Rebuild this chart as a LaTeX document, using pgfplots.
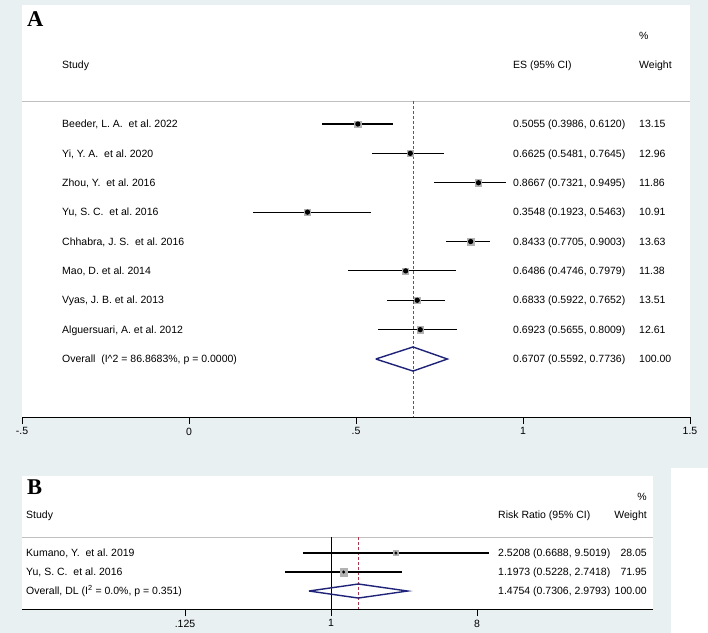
\documentclass[border=0pt]{standalone}
\usepackage{pgfplots}
\pgfplotsset{compat=1.18}
\usepackage{pgfplotstable}
\usepackage{fontspec}
\setmainfont{Liberation Sans}
\newfontfamily\lserif{Liberation Serif}
\definecolor{bgc}{RGB}{233,240,242}
\definecolor{boxgray}{RGB}{178,178,178}
\definecolor{sepgray}{RGB}{192,192,192}
\definecolor{dashred}{RGB}{170,55,75}
\definecolor{dnavy}{RGB}{30,35,120}
\frenchspacing
\pgfplotstableread{
row es lo hi w
1 0.5055 0.3986 0.6120 13.15
2 0.6625 0.5481 0.7645 12.96
3 0.8667 0.7321 0.9495 11.86
4 0.3548 0.1923 0.5463 10.91
5 0.8433 0.7705 0.9003 13.63
6 0.6486 0.4746 0.7979 11.38
7 0.6833 0.5922 0.7652 13.51
8 0.6923 0.5655 0.8009 12.61
}\dataA
\pgfplotstableread{
row es lo hi w
1 2.5208 0.6688 9.5019 28.05
2 1.1973 0.5228 2.7418 71.95
}\dataB
\pgfplotsset{
  forest/.style={
    scale only axis,
    axis x line=bottom, axis y line=none,
    x axis line style={-, black, line width=0.8bp},
    tick align=outside, major tick length=7bp,
    tick style={black, line width=0.8bp},
    axis background/.style={fill=white},
    tick label style={font=\fontsize{10.5bp}{12.6bp}\selectfont, text=black},
  }
}
\begin{document}
\fontsize{10.5bp}{12.6bp}\selectfont
\begin{tikzpicture}
\begin{scope}[x=1bp,y=-1bp]
\path[use as bounding box, fill=bgc] (0,0) rectangle (708,633);
\fill[white] (671,468) rectangle (708,633);
\end{scope}
% ---------------- Panel A ----------------
\begin{axis}[forest, at={(22bp,-417bp)}, anchor=south west,
  width=668bp, height=412bp,
  xmin=-0.5, xmax=1.5, ymin=-10.974, ymax=3.051,
  xtick={-0.5,0,0.5,1,1.5}, xticklabels={-.5,0,.5,1,1.5}]
\addplot[sepgray, line width=0.8bp] coordinates {(-0.5,-0.217) (1.5,-0.217)};
\addplot[dashred, line width=1bp, dash pattern=on 3bp off 2bp] coordinates {(0.6707,-0.217) (0.6707,-10.974)};
\addplot[scatter, only marks, mark=square*,
  scatter/use mapped color={draw=boxgray, fill=boxgray},
  visualization depends on={0.9*sqrt(\thisrow{w}) \as \msz},
  scatter/@pre marker code/.append style={/tikz/mark size=\msz}]
  table[x=es, y expr=-\thisrow{row}] {\dataA};
\addplot[black, line width=1.2bp, only marks, mark=none,
  error bars/.cd, x dir=both, x explicit, error mark=none,
  error bar style={draw=black, line width=1.2bp, solid}]
  table[x=es, y expr=-\thisrow{row},
    x error plus expr=\thisrow{hi}-\thisrow{es},
    x error minus expr=\thisrow{es}-\thisrow{lo}] {\dataA};
\addplot[only marks, mark=*, mark size=1.3bp, black]
  table[x=es, y expr=-\thisrow{row}] {\dataA};
\addplot[dnavy, line width=1.4bp] coordinates {(0.5592,-9) (0.6707,-8.59) (0.7736,-9) (0.6707,-9.41) (0.5592,-9)};
\end{axis}
% ---------------- Panel B ----------------
\begin{axis}[forest, at={(22bp,-609bp)}, anchor=south west,
  width=631bp, height=133bp,
  xmode=log, log basis x=2, xmin=0.012267, xmax=98.09,
  ymin=-3.947, ymax=3.053,
  xtick={0.125,1,8}, xticklabels={.125,1,8}]
\addplot[sepgray, line width=0.8bp] coordinates {(0.012267,-0.158) (98.09,-0.158)};
\addplot[black, line width=0.8bp] coordinates {(1,-0.158) (1,-3.947)};
\addplot[dashred, line width=1bp, dash pattern=on 3bp off 2bp] coordinates {(1.4754,-0.158) (1.4754,-3.947)};
\addplot[scatter, only marks, mark=square*,
  scatter/use mapped color={draw=boxgray, fill=boxgray},
  visualization depends on={0.45*sqrt(\thisrow{w}) \as \msz},
  scatter/@pre marker code/.append style={/tikz/mark size=\msz}]
  table[x=es, y expr=-\thisrow{row}] {\dataB};
\addplot[black, line width=1.2bp] coordinates {(0.6688,-1) (9.5019,-1)};
\addplot[black, line width=1.2bp] coordinates {(0.5228,-2) (2.7418,-2)};
\addplot[only marks, mark=*, mark size=1.3bp, black]
  table[x=es, y expr=-\thisrow{row}] {\dataB};
\addplot[dnavy, line width=1.4bp] coordinates {(0.7306,-3) (1.4754,-2.63) (2.9793,-3) (1.4754,-3.37) (0.7306,-3)};
\end{axis}
% ---------------- Text ----------------
\begin{scope}[x=1bp,y=-1bp, every node/.style={anchor=base west, inner sep=0pt}]
\node at (27,27) {\lserif\bfseries\fontsize{22.5bp}{24bp}\selectfont A};
\node at (639,39.5) {\%};
\node at (62,68.7) {Study};
\node at (513,68.7) {ES (95\% CI)};
\node at (639,68.7) {Weight};
\node at (62,127.7) {Beeder, L. A.\ \ et al. 2022};
\node at (62,157.1) {Yi, Y. A.\ \ et al. 2020};
\node at (62,186.5) {Zhou, Y.\ \ et al. 2016};
\node at (62,215.8) {Yu, S. C.\ \ et al. 2016};
\node at (62,245.2) {Chhabra, J. S.\ \ et al. 2016};
\node at (62,274.6) {Mao, D. et al. 2014};
\node at (62,303.9) {Vyas, J. B. et al. 2013};
\node at (62,333.3) {Alguersuari, A. et al. 2012};
\node at (62,362.7) {Overall\ \ (I\textasciicircum 2 = 86.8683\%, p = 0.0000)};
\node at (513,127.7) {0.5055 (0.3986, 0.6120)};
\node at (513,157.1) {0.6625 (0.5481, 0.7645)};
\node at (513,186.5) {0.8667 (0.7321, 0.9495)};
\node at (513,215.8) {0.3548 (0.1923, 0.5463)};
\node at (513,245.2) {0.8433 (0.7705, 0.9003)};
\node at (513,274.6) {0.6486 (0.4746, 0.7979)};
\node at (513,303.9) {0.6833 (0.5922, 0.7652)};
\node at (513,333.3) {0.6923 (0.5655, 0.8009)};
\node at (513,362.7) {0.6707 (0.5592, 0.7736)};
\node at (639,127.7) {13.15};
\node at (639,157.1) {12.96};
\node at (639,186.5) {11.86};
\node at (639,215.8) {10.91};
\node at (639,245.2) {13.63};
\node at (639,274.6) {11.38};
\node at (639,303.9) {13.51};
\node at (639,333.3) {12.61};
\node at (639,362.7) {100.00};
% Panel B text
\node at (27,494) {\lserif\bfseries\fontsize{22.5bp}{24bp}\selectfont B};
\node[anchor=base east] at (647,500) {\%};
\node at (26,518.5) {Study};
\node at (498,518.5) {Risk Ratio (95\% CI)};
\node[anchor=base east] at (647,518.5) {Weight};
\node at (26,556.5) {Kumano, Y.\ \ et al. 2019};
\node at (26,575.5) {Yu, S. C.\ \ et al. 2016};
\node at (26,594.5) {Overall, DL (I\textsuperscript{2} = 0.0\%, p = 0.351)};
\node at (498,556.5) {2.5208 (0.6688, 9.5019)};
\node at (498,575.5) {1.1973 (0.5228, 2.7418)};
\node at (498,594.5) {1.4754 (0.7306, 2.9793)};
\node[anchor=base east] at (647,556.5) {28.05};
\node[anchor=base east] at (647,575.5) {71.95};
\node[anchor=base east] at (647,594.5) {100.00};
\end{scope}
\end{tikzpicture}
\end{document}
